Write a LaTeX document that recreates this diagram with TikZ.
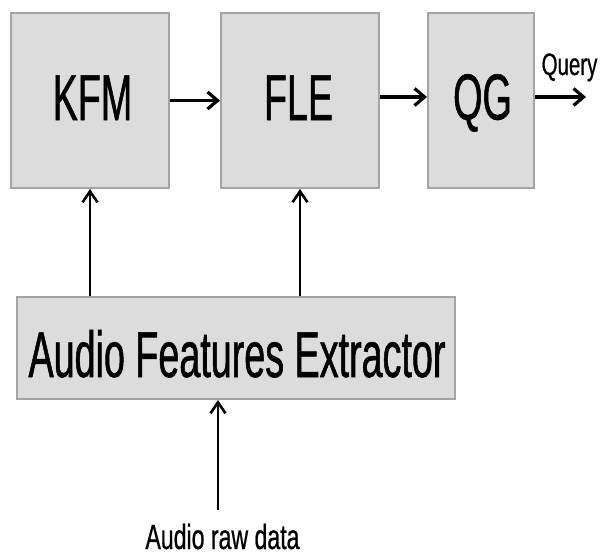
\documentclass[tikz,border=0pt]{standalone}
\usepackage{fontspec}
\usetikzlibrary{arrows.meta,calc}
% narrow sans faces for the block labels
\newfontfamily\blockfont[FakeStretch=0.58,FakeBold=0.8]{Liberation Sans}
\newfontfamily\smallfont[FakeStretch=0.66,FakeBold=0.6]{Liberation Sans}
\definecolor{boxfill}{HTML}{DCDCDC}
\definecolor{boxline}{HTML}{A4A4A4}
\tikzset{
  block/.style={draw=boxline, line width=2pt, fill=boxfill, inner sep=0pt},
  bigtext/.style={anchor=base, inner sep=0pt, font=\blockfont\fontsize{65}{70}\selectfont},
  smalltext/.style={anchor=base, inner sep=0pt},
  flow/.style={line width=3.8pt, -{Straight Barb[length=10pt,width=17pt,line width=3.2pt]}},
  feed/.style={line width=2.8pt, -{Straight Barb[length=11pt,width=15pt,line width=2.6pt]}}
}
\begin{document}
\begin{tikzpicture}[x=1pt,y=-1pt]
\useasboundingbox (0,0) rectangle (602,555);
% processing blocks
\node[block, minimum width=158pt, minimum height=175pt] (kfm) at (90,100.5) {};
\node[block, minimum width=158pt, minimum height=175pt] (fle) at (300,100.5) {};
\node[block, minimum width=106pt, minimum height=175pt] (qg) at (481,100.5) {};
\node[block, minimum width=438pt, minimum height=102pt] (afe) at (236,348) {};
% block labels
\node[bigtext] (kfmlabel) at (92.5,120) {KFM};
\node[bigtext] (flelabel) at (298.5,120) {FLE};
\node[bigtext] (qglabel) at (482.5,119.5) {QG};
\node[bigtext] (afelabel) at (237,377) {Audio Features Extractor};
% inputs and outputs
\coordinate (qout) at (586,97);
\coordinate (rawin) at (218,510);
\node[smalltext, font=\smallfont\fontsize{31}{34}\selectfont] (query) at (569.5,75) {Query};
\node[smalltext, font=\smallfont\fontsize{35}{38}\selectfont] (raw) at (222.5,549) {Audio raw data};
% connectors
\draw[flow] (kfm.east) -- (fle.west);
\draw[flow] ([yshift=3.5pt]fle.east) -- ([yshift=3.5pt]qg.west);
\draw[flow] (qg.east |- qout) -- (qout);
\draw[feed] (afe.north -| kfm.south) -- (kfm.south);
\draw[feed] (afe.north -| fle.south) -- (fle.south);
\draw[feed] (rawin) -- (afe.south -| rawin);
\end{tikzpicture}
\end{document}
